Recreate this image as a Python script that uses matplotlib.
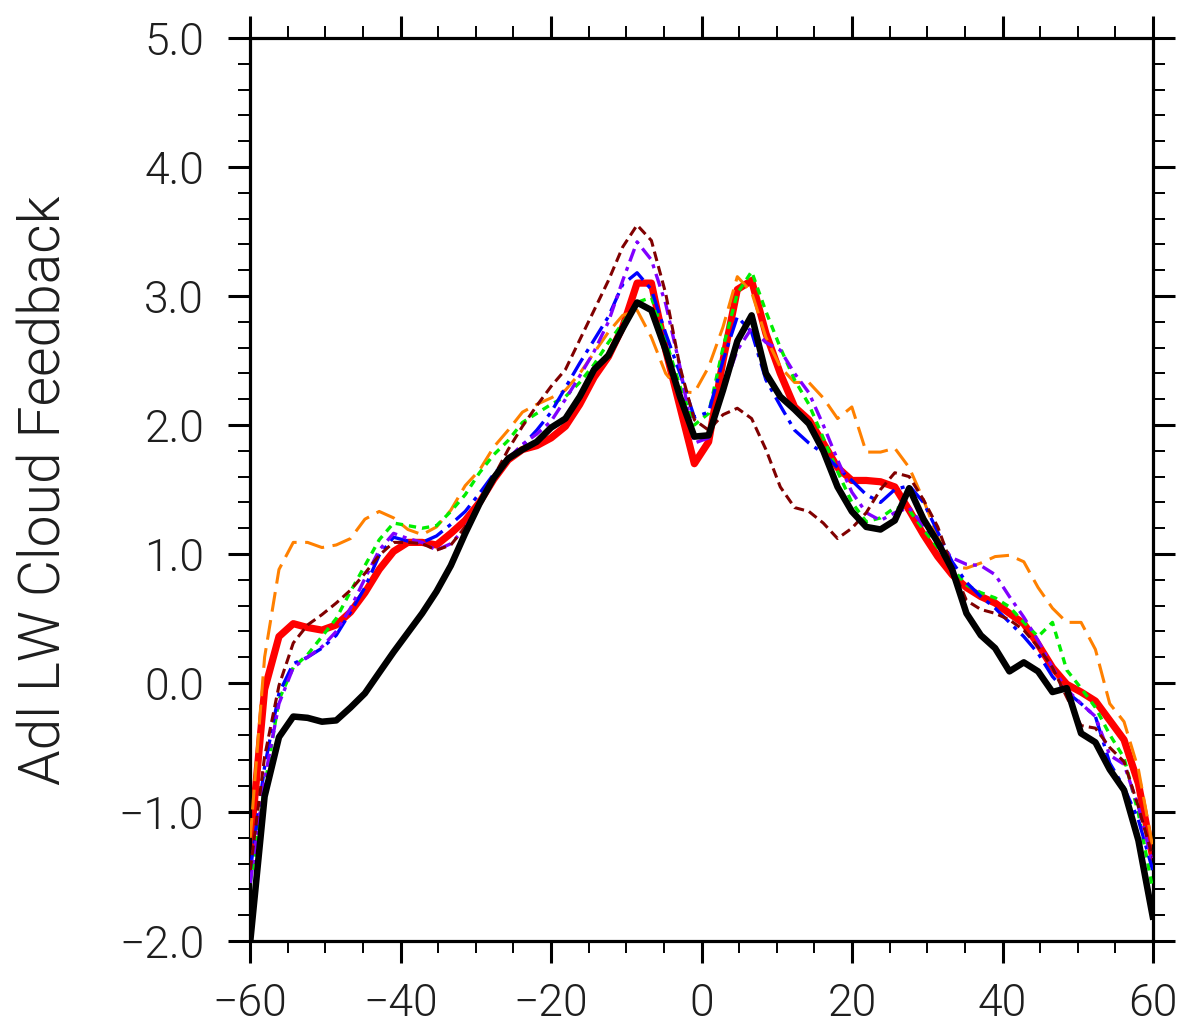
import matplotlib
matplotlib.use("Agg")
import matplotlib.pyplot as plt
from matplotlib.ticker import MultipleLocator, FixedLocator

lats = [-59.96, -58.06, -56.15, -54.25, -52.35, -50.44, -48.54, -46.64, -44.73, -42.83,
        -40.92, -39.02, -37.12, -35.21, -33.31, -31.40, -29.50, -27.60, -25.69, -23.79,
        -21.89, -19.98, -18.08, -16.18, -14.27, -12.37, -10.47, -8.56, -6.66, -4.76,
        -2.86, -0.95,
        0.95, 2.86, 4.76, 6.66, 8.56, 10.47, 12.37, 14.27, 16.18, 18.08,
        19.98, 21.89, 23.79, 25.69, 27.60, 29.50, 31.40, 33.31, 35.21, 37.12,
        39.02, 40.92, 42.83, 44.73, 46.64, 48.54, 50.44, 52.35, 54.25, 56.15,
        58.06, 59.96]

red = [-1.27, -0.05, 0.36, 0.46, 0.43, 0.41, 0.45, 0.55, 0.70, 0.88, 1.02, 1.09, 1.09, 1.07,
       1.16, 1.26, 1.40, 1.58, 1.73, 1.81, 1.84, 1.90, 1.99, 2.16, 2.37, 2.53, 2.76, 3.10,
       3.10, 2.58, 2.14, 1.70,
       1.87, 2.50, 3.05, 3.12, 2.71, 2.40, 2.14, 2.04, 1.86, 1.67, 1.57, 1.57, 1.56, 1.52,
       1.34, 1.15, 0.98, 0.84, 0.74, 0.67, 0.62, 0.54, 0.46, 0.30, 0.12, -0.01, -0.07, -0.14,
       -0.29, -0.44, -0.78, -1.35]

orange = [-1.20, 0.20, 0.88, 1.09, 1.09, 1.05, 1.07, 1.12, 1.27, 1.33, 1.28, 1.19, 1.15, 1.21,
          1.34, 1.53, 1.65, 1.83, 1.96, 2.10, 2.16, 2.21, 2.27, 2.40, 2.56, 2.72, 2.85, 2.89,
          2.68, 2.40, 2.26, 2.25,
          2.45, 2.76, 3.15, 3.03, 2.68, 2.45, 2.33, 2.33, 2.21, 2.05, 2.14, 1.79, 1.79, 1.82,
          1.67, 1.42, 1.13, 0.90, 0.89, 0.93, 0.98, 0.99, 0.94, 0.74, 0.58, 0.47, 0.47, 0.26,
          -0.16, -0.30, -0.67, -1.27]

green = [-1.55, -0.81, -0.13, 0.12, 0.22, 0.36, 0.50, 0.71, 0.91, 1.11, 1.24, 1.22, 1.20, 1.22,
         1.33, 1.46, 1.63, 1.77, 1.88, 2.02, 2.09, 2.16, 2.22, 2.33, 2.47, 2.64, 2.79, 2.95,
         2.99, 2.66, 2.30, 2.00,
         2.09, 2.60, 3.02, 3.19, 2.88, 2.60, 2.35, 2.16, 1.90, 1.64, 1.40, 1.25, 1.28, 1.36,
         1.34, 1.19, 1.05, 0.89, 0.76, 0.70, 0.66, 0.59, 0.47, 0.36, 0.47, 0.10, -0.04, -0.19,
         -0.40, -0.58, -1.01, -1.60]

blue = [-1.45, -0.65, -0.08, 0.15, 0.20, 0.27, 0.37, 0.55, 0.74, 0.99, 1.13, 1.10, 1.09, 1.14,
        1.23, 1.33, 1.47, 1.62, 1.74, 1.84, 1.96, 2.10, 2.29, 2.48, 2.66, 2.84, 3.09, 3.18,
        3.05, 2.71, 2.40, 2.06,
        2.10, 2.50, 2.84, 2.72, 2.35, 2.15, 1.96, 1.86, 1.78, 1.67, 1.57, 1.46, 1.40, 1.50,
        1.53, 1.40, 1.17, 0.94, 0.78, 0.67, 0.58, 0.47, 0.36, 0.23, 0.05, -0.07, -0.16, -0.26,
        -0.62, -0.81, -1.06, -1.45]

purple = [-1.55, -0.75, -0.16, 0.12, 0.20, 0.28, 0.40, 0.58, 0.81, 1.03, 1.16, 1.12, 1.09, 1.03,
          1.08, 1.20, 1.38, 1.58, 1.74, 1.85, 1.93, 2.03, 2.20, 2.38, 2.57, 2.80, 3.12, 3.42,
          3.28, 2.94, 2.45, 1.86,
          1.90, 2.27, 2.58, 2.75, 2.64, 2.58, 2.40, 2.25, 2.00, 1.73, 1.48, 1.32, 1.26, 1.32,
          1.36, 1.22, 1.09, 0.97, 0.92, 0.91, 0.84, 0.67, 0.51, 0.33, 0.12, -0.05, -0.16, -0.26,
          -0.56, -0.63, -0.96, -1.40]

maroon = [-1.45, -0.57, -0.02, 0.31, 0.45, 0.53, 0.62, 0.72, 0.85, 0.99, 1.09, 1.09, 1.08, 1.03,
          1.07, 1.21, 1.38, 1.60, 1.81, 1.99, 2.15, 2.30, 2.43, 2.66, 2.89, 3.12, 3.38, 3.55,
          3.43, 3.02, 2.45, 2.04,
          1.96, 2.08, 2.13, 2.05, 1.81, 1.52, 1.36, 1.33, 1.24, 1.12, 1.20, 1.32, 1.50, 1.63,
          1.60, 1.42, 1.21, 0.90, 0.64, 0.57, 0.54, 0.49, 0.41, 0.28, 0.12, -0.11, -0.33, -0.35,
          -0.50, -0.61, -0.96, -1.35]

black = [-2.00, -0.88, -0.42, -0.26, -0.27, -0.30, -0.29, -0.19, -0.08, 0.08, 0.24, 0.39, 0.54,
         0.71, 0.91, 1.16, 1.39, 1.59, 1.74, 1.81, 1.87, 1.98, 2.05, 2.22, 2.43, 2.54, 2.75,
         2.95, 2.89, 2.58, 2.22, 1.91,
         1.92, 2.27, 2.65, 2.85, 2.40, 2.22, 2.12, 2.01, 1.80, 1.52, 1.33, 1.21, 1.19, 1.26,
         1.51, 1.27, 1.09, 0.88, 0.54, 0.37, 0.27, 0.09, 0.16, 0.09, -0.07, -0.04, -0.39, -0.46,
         -0.67, -0.83, -1.22, -1.81]

x_ticks = [-60, -40, -20, 0, 20, 40, 60]
x_ticklabels = ["\u221260", "\u221240", "\u221220", "0", "20", "40", "60"]
y_ticks = [-2, -1, 0, 1, 2, 3, 4, 5]
y_ticklabels = ["\u22122.0", "\u22121.0", "0.0", "1.0", "2.0", "3.0", "4.0", "5.0"]
ylabel = "Adl LW Cloud Feedback"

plt.rcParams['font.family'] = ['Roboto', 'DejaVu Sans']
TXT = dict(fontweight=300, color='#1e1e1e')

fig = plt.figure(figsize=(11.83, 10.31), dpi=100)
ax = fig.add_axes([250/1183, 1-941/1031, 903/1183, 903/1031])

ax.plot(lats, red, color='#ff0000', lw=5.2, solid_joinstyle='round', zorder=2)
ax.plot(lats, orange, color='#ff8000', lw=2.2, ls=(0, (6.5, 2.8)), zorder=3)
ax.plot(lats, green, color='#00ee00', lw=2.4, ls=(0, (2.2, 1.8)), zorder=3)
ax.plot(lats, blue, color='#0000ff', lw=2.4, ls=(0, (6.0, 2.0, 1.2, 2.0)), zorder=3)
ax.plot(lats, purple, color='#8000ff', lw=2.4, ls=(0, (4.0, 1.8, 1.2, 1.8)), zorder=3)
ax.plot(lats, maroon, color='#800000', lw=2.2, ls=(0, (3.2, 1.7)), zorder=3)
ax.plot(lats, black, color='#000000', lw=4.7, solid_joinstyle='round', zorder=4)

ax.set_xlim(-60, 60)
ax.set_ylim(-2, 5)

ax.xaxis.set_major_locator(FixedLocator(x_ticks))
ax.set_xticklabels(x_ticklabels)
ax.yaxis.set_major_locator(FixedLocator(y_ticks))
ax.set_yticklabels(y_ticklabels)
ax.xaxis.set_minor_locator(MultipleLocator(5))
ax.yaxis.set_minor_locator(MultipleLocator(0.2))

for s in ax.spines.values():
    s.set_linewidth(2.3)

ax.tick_params(which='both', direction='out', top=True, right=True,
               labeltop=False, labelright=False)
ax.tick_params(which='major', length=16, width=2.2, labelsize=32, pad=17)
ax.tick_params(which='minor', length=8.5, width=1.4)
ax.tick_params(axis='x', which='major', pad=14)

for lab in ax.get_xticklabels() + ax.get_yticklabels():
    lab.set_fontweight(TXT['fontweight'])
    lab.set_color(TXT['color'])

fig.text(45/1183, 1-490/1031, ylabel, rotation=90, ha='center', va='center',
         fontsize=41, **TXT)

fig.savefig("out.png", dpi=100, facecolor='white')
